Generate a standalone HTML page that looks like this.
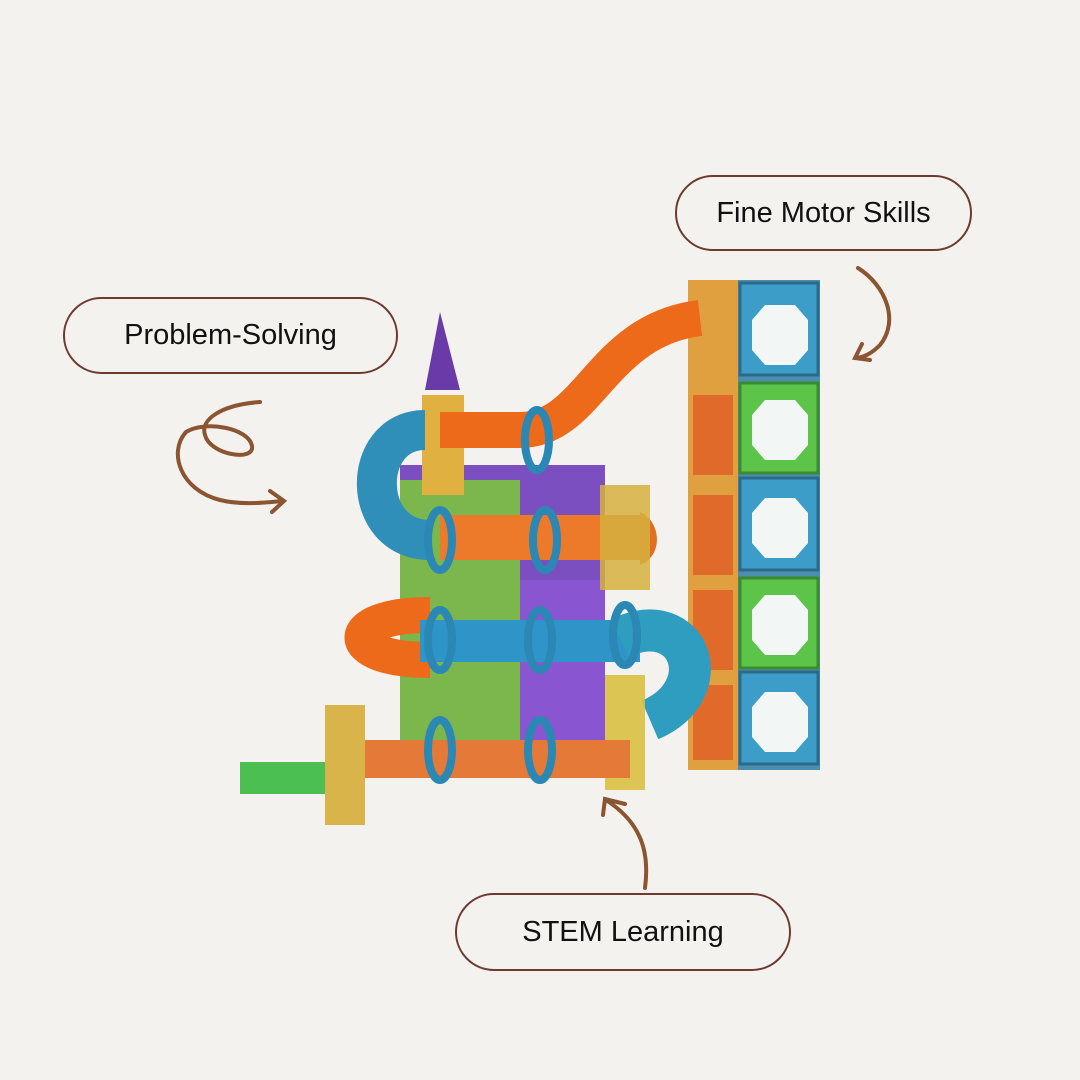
<!DOCTYPE html>
<html><head><style>
body{margin:0;width:1080px;height:1080px;background:#f3f2ef;position:relative;overflow:hidden;font-family:"Liberation Sans",sans-serif}
.pill{position:absolute;border:2px solid #6e3a2f;border-radius:40px;display:flex;align-items:center;justify-content:center;font-size:29px;color:#111;box-sizing:border-box}
svg{position:absolute;left:0;top:0}
</style></head><body>
<svg width="1080" height="1080" viewBox="0 0 1080 1080">
<!-- tower -->
<g>
<rect x="688" y="280" width="132" height="490" fill="#4a8fb0"/>
<rect x="688" y="280" width="50" height="490" fill="#e0a040"/>
<g fill="#e06a2a">
<rect x="693" y="395" width="40" height="80"/><rect x="693" y="495" width="40" height="80"/><rect x="693" y="590" width="40" height="80"/><rect x="693" y="685" width="40" height="75"/></g>
<g fill="#3c9ec8" stroke="#2d6a8a" stroke-width="3">
<rect x="740" y="283" width="78" height="92"/><rect x="740" y="478" width="78" height="92"/><rect x="740" y="672" width="78" height="92"/></g>
<g fill="#5cc448" stroke="#3b8a30" stroke-width="3">
<rect x="740" y="383" width="78" height="90"/><rect x="740" y="578" width="78" height="90"/></g>
<g fill="#f2f6f4">
<polygon points="765,305 795,305 808,320 808,350 795,365 765,365 752,350 752,320"/>
<polygon points="765,400 795,400 808,415 808,445 795,460 765,460 752,445 752,415"/>
<polygon points="765,498 795,498 808,513 808,543 795,558 765,558 752,543 752,513"/>
<polygon points="765,595 795,595 808,610 808,640 795,655 765,655 752,640 752,610"/>
<polygon points="765,692 795,692 808,707 808,737 795,752 765,752 752,737 752,707"/>
</g>
</g>
<!-- left structure -->
<rect x="400" y="465" width="205" height="310" fill="#7c4fc0"/>
<rect x="400" y="480" width="120" height="290" fill="#7dc93a" opacity="0.85"/>
<rect x="520" y="580" width="85" height="190" fill="#8a55d0"/>
<polygon points="425,390 440,312 460,390" fill="#6a3aa8"/>
<rect x="422" y="395" width="42" height="100" fill="#e0b040"/>
<path d="M440,430 L520,430 C590,430 600,330 700,318" stroke="#ec6a1a" stroke-width="36" fill="none"/>
<path d="M425,430 C360,430 360,540 430,540" stroke="#2f8fb8" stroke-width="40" fill="none"/>
<rect x="440" y="515" width="200" height="45" fill="#ec7a2a"/>
<path d="M640,512 C660,520 665,555 640,565 Z" fill="#e07020"/>
<rect x="600" y="485" width="50" height="105" fill="#d6b040" opacity="0.85"/>
<path d="M430,615 C340,615 340,660 430,660" stroke="#ec6a1a" stroke-width="36" fill="none"/>
<rect x="420" y="620" width="220" height="42" fill="#2f95c8"/>
<path d="M620,638 C690,605 720,690 650,720" stroke="#2f9dc0" stroke-width="42" fill="none"/>
<rect x="605" y="675" width="40" height="115" fill="#d9c040" opacity="0.9"/>
<rect x="330" y="740" width="300" height="38" fill="#e57a38"/>
<rect x="240" y="762" width="95" height="32" fill="#4cbf52"/>
<rect x="325" y="705" width="40" height="120" fill="#d8b44a"/>
<g fill="none" stroke="#2b87b3" stroke-width="8">
<ellipse cx="537" cy="440" rx="12" ry="30"/><ellipse cx="440" cy="540" rx="12" ry="30"/><ellipse cx="545" cy="540" rx="12" ry="30"/>
<ellipse cx="440" cy="640" rx="12" ry="30"/><ellipse cx="540" cy="640" rx="12" ry="30"/><ellipse cx="625" cy="635" rx="12" ry="30"/>
<ellipse cx="440" cy="750" rx="12" ry="30"/><ellipse cx="540" cy="750" rx="12" ry="30"/>
</g>
<g fill="none" stroke="#8b5532" stroke-width="4" stroke-linecap="round">
<path d="M260,402 C220,405 200,420 205,435 C210,455 255,462 252,446 C249,428 205,420 186,432 C168,452 180,490 220,500 C240,505 262,503 283,501"/>
<path d="M270,491 L284,501 L272,512"/>
<path d="M858,268 C885,285 900,320 880,345 C872,353 865,357 856,358"/>
<path d="M862,344 L855,358 L870,360"/>
<path d="M645,888 C650,850 640,822 606,800"/>
<path d="M603,815 L605,799 L625,804"/>
</g>
</svg>
<div class="pill" style="left:675px;top:175px;width:297px;height:76px">Fine Motor Skills</div>
<div class="pill" style="left:63px;top:297px;width:335px;height:77px">Problem-Solving</div>
<div class="pill" style="left:455px;top:893px;width:336px;height:78px">STEM Learning</div>
</body></html>
